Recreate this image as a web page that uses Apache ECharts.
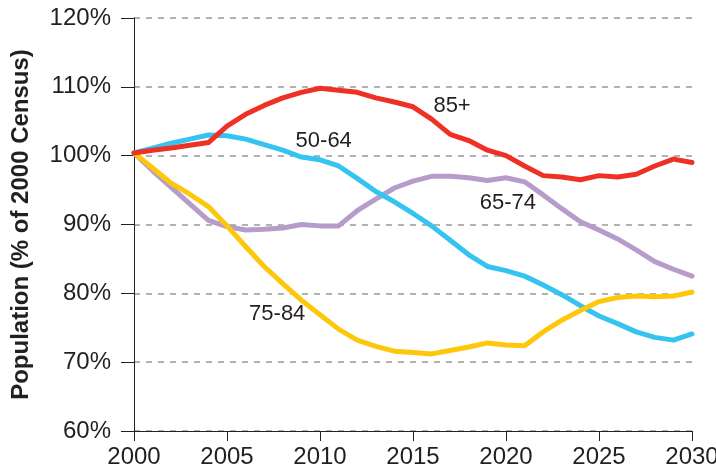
<!DOCTYPE html>
<html>
<head>
<meta charset="utf-8">
<script src="https://cdn.jsdelivr.net/npm/echarts@6/dist/echarts.min.js"></script>
<style>
html,body{margin:0;padding:0;background:#fff;}
#chart{width:716px;height:469px;}
</style>
</head>
<body>
<div id="chart"></div>
<script>
const years = [2000,2001,2002,2003,2004,2005,2006,2007,2008,2009,2010,2011,2012,2013,2014,2015,2016,2017,2018,2019,2020,2021,2022,2023,2024,2025,2026,2027,2028,2029,2030];
const age5064 = [100.4,101.1,101.8,102.4,103.0,102.9,102.4,101.6,100.8,99.8,99.4,98.5,96.7,94.8,93.3,91.6,89.8,87.7,85.6,83.9,83.3,82.5,81.2,79.8,78.2,76.7,75.6,74.4,73.6,73.2,74.1];
const age6574 = [100.4,97.8,95.4,93.0,90.6,89.7,89.2,89.3,89.5,90.0,89.8,89.8,92.0,93.7,95.3,96.3,97.0,97.0,96.8,96.4,96.8,96.2,94.3,92.3,90.4,89.2,87.9,86.3,84.6,83.5,82.5];
const age7584 = [100.4,98.2,96.0,94.4,92.6,89.8,86.8,83.9,81.4,79.0,76.9,74.8,73.2,72.3,71.6,71.4,71.2,71.7,72.2,72.8,72.5,72.4,74.4,76.1,77.5,78.8,79.4,79.6,79.5,79.6,80.2];
const age85p = [100.4,100.8,101.1,101.5,101.9,104.3,106.0,107.3,108.4,109.2,109.8,109.5,109.2,108.4,107.8,107.1,105.3,103.1,102.2,100.8,100.0,98.5,97.1,96.9,96.5,97.1,96.9,97.3,98.5,99.5,99.0];
const seriesNames = ['65-74','50-64','75-84','85+'];
const seriesColors = ['#b59cca','#35c3ef','#fdc80c','#ee3124'];
const seriesValues = [age6574, age5064, age7584, age85p];
// label anchor points in data units [year, percent]
const labelPos = [[2020.1,93.1],[2010.2,102.1],[2007.7,77.0],[2017.1,107.2]];
const yTicks = [60,70,80,90,100,110,120];

const chart = echarts.init(document.getElementById('chart'), null, {renderer:'canvas'});
const textColor = '#231f20';
const font = 'Liberation Sans, Arial, Helvetica, sans-serif';

const series = seriesNames.map((n,i)=>({
  name:n, type:'line', symbol:'none', smooth:false, z: 2+i,
  data: years.map((y,j)=>[y, seriesValues[i][j]]),
  lineStyle:{color:seriesColors[i], width:5, cap:'round', join:'round'},
  itemStyle:{color:seriesColors[i]}
}));

chart.setOption({
  animation:false,
  backgroundColor:'#fff',
  grid:{left:134, right:24, top:18, bottom:38, containLabel:false, outerBoundsMode:'none'},
  xAxis:{
    type:'value', min:2000, max:2030, interval:5,
    axisLine:{show:true, onZero:false, lineStyle:{color:textColor, width:1}},
    axisTick:{show:true, inside:false, length:10, lineStyle:{color:textColor, width:1}},
    axisLabel:{color:textColor, fontSize:24, fontFamily:font, margin:14, formatter:v=>String(v)},
    splitLine:{show:false}
  },
  yAxis:{
    type:'value', min:yTicks[0], max:yTicks[yTicks.length-1], interval:10,
    name:'Population (% of 2000 Census)', nameLocation:'middle', nameGap:101, nameRotate:90,
    nameTextStyle:{color:textColor, fontSize:24, fontWeight:'bold', fontFamily:font},
    axisLine:{show:true, lineStyle:{color:textColor, width:1}},
    axisTick:{show:true, inside:false, length:13, lineStyle:{color:textColor, width:1}},
    axisLabel:{color:textColor, fontSize:24, fontFamily:font, margin:23, formatter:'{value}%'},
    splitLine:{show:true, lineStyle:{color:'#999999', width:1.5, type:[6,6]}}
  },
  series: series
});

const labels = seriesNames.map((n,i)=>{
  const p = chart.convertToPixel({gridIndex:0}, labelPos[i]);
  return {type:'text', x:p[0], y:p[1], z:100,
    style:{text:n, fill:textColor, fontSize:22, fontFamily:font, align:'center', verticalAlign:'middle'}};
});
chart.setOption({graphic:labels});
</script>
</body>
</html>
